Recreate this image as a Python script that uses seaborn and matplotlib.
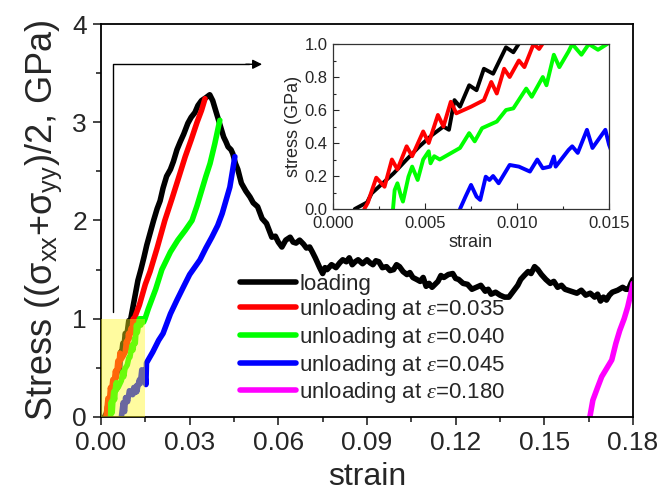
import matplotlib
matplotlib.use("Agg")
import matplotlib.pyplot as plt
import seaborn as sns
import pandas as pd
from matplotlib.patches import Rectangle
from matplotlib.ticker import MultipleLocator

sns.set_style("ticks")
plt.rcParams['font.family'] = ['Liberation Sans', 'DejaVu Sans']
plt.rcParams['mathtext.fontset'] = 'custom'
plt.rcParams['mathtext.rm'] = 'Liberation Sans'
plt.rcParams['mathtext.it'] = 'Liberation Serif:italic'

# ---------------- data ----------------
loading_strain = [0.00118, 0.00185, 0.0021, 0.0027, 0.0033, 0.0040, 0.0047, 0.0054, 0.0060, 0.0063,
                  0.0066, 0.0069, 0.0074, 0.0078, 0.0082, 0.0087, 0.0094, 0.0098, 0.0102, 0.0110,
                  0.0118, 0.0125, 0.0135, 0.0145, 0.0155, 0.0165, 0.0178, 0.0190, 0.0200, 0.0210,
                  0.0222, 0.0235, 0.0245, 0.0257, 0.0268, 0.0280, 0.0294, 0.0305, 0.0318, 0.0328,
                  0.0340, 0.0355, 0.0368, 0.0378, 0.0388, 0.0395, 0.0405, 0.0415, 0.0423, 0.0430,
                  0.0440, 0.0446, 0.0455, 0.0463, 0.0475, 0.0490, 0.0504, 0.0515, 0.0530, 0.0545,
                  0.0560, 0.0578, 0.0590, 0.0600, 0.0612, 0.0625, 0.0640, 0.0650, 0.0660, 0.0672,
                  0.0685, 0.0695, 0.0706, 0.0715, 0.0725, 0.0740, 0.0750, 0.0758, 0.0765, 0.0780,
                  0.0795, 0.0808, 0.0818, 0.0830, 0.0840, 0.0850, 0.0860, 0.0870, 0.0885, 0.0900,
                  0.0910, 0.0920, 0.0930, 0.0940, 0.0952, 0.0966, 0.0978, 0.0990, 0.1000, 0.1010,
                  0.1022, 0.1035, 0.1045, 0.1055, 0.1068, 0.1080, 0.1090, 0.1100, 0.1110, 0.1120,
                  0.1130, 0.1140, 0.1150, 0.1160, 0.1175, 0.1190, 0.1200, 0.1210, 0.1225, 0.1240,
                  0.1255, 0.1270, 0.1285, 0.1300, 0.1310, 0.1320, 0.1335, 0.1350, 0.1365, 0.1380,
                  0.1390, 0.1400, 0.1410, 0.1420, 0.1432, 0.1445, 0.1455, 0.1467, 0.1478, 0.1490,
                  0.1505, 0.1520, 0.1532, 0.1545, 0.1558, 0.1570, 0.1590, 0.1610, 0.1625, 0.1640,
                  0.1655, 0.1670, 0.1680, 0.1690, 0.1700, 0.1710, 0.1720, 0.1730, 0.1748, 0.1765,
                  0.1775, 0.1785, 0.1793, 0.1800]
loading_stress = [0.0, 0.04, 0.095, 0.156, 0.217, 0.30, 0.38, 0.45, 0.50, 0.48,
                  0.66, 0.62, 0.75, 0.72, 0.85, 0.82, 0.98, 0.95, 1.02, 1.15,
                  1.28, 1.39, 1.50, 1.62, 1.75, 1.86, 2.00, 2.12, 2.20, 2.33,
                  2.45, 2.52, 2.60, 2.72, 2.80, 2.88, 2.99, 3.05, 3.10, 3.17,
                  3.22, 3.25, 3.28, 3.22, 3.12, 3.05, 2.95, 2.85, 2.80, 2.75,
                  2.72, 2.68, 2.58, 2.52, 2.38, 2.30, 2.24, 2.18, 2.14, 2.02,
                  1.97, 1.83, 1.84, 1.78, 1.73, 1.80, 1.83, 1.78, 1.77, 1.80,
                  1.76, 1.72, 1.73, 1.68, 1.62, 1.52, 1.46, 1.52, 1.50, 1.55,
                  1.52, 1.57, 1.60, 1.58, 1.62, 1.55, 1.58, 1.60, 1.56, 1.60,
                  1.57, 1.55, 1.59, 1.58, 1.52, 1.53, 1.49, 1.50, 1.55, 1.53,
                  1.48, 1.45, 1.47, 1.42, 1.40, 1.38, 1.42, 1.33, 1.36, 1.32,
                  1.35, 1.38, 1.44, 1.42, 1.45, 1.46, 1.41, 1.40, 1.36, 1.35,
                  1.30, 1.32, 1.34, 1.28, 1.30, 1.25, 1.27, 1.24, 1.22, 1.22,
                  1.26, 1.30, 1.34, 1.40, 1.44, 1.48, 1.46, 1.53, 1.50, 1.45,
                  1.40, 1.36, 1.38, 1.32, 1.34, 1.30, 1.28, 1.26, 1.29, 1.24,
                  1.26, 1.22, 1.25, 1.18, 1.22, 1.19, 1.24, 1.27, 1.29, 1.32,
                  1.30, 1.30, 1.36, 1.40]

unl035_strain = [0.0017, 0.0019, 0.0020, 0.00235, 0.0028, 0.0032, 0.0035, 0.0040, 0.0043, 0.0049,
                 0.0052, 0.0057, 0.0060, 0.0064, 0.0067, 0.0075, 0.0082, 0.0086, 0.0089, 0.0093,
                 0.0096, 0.0101, 0.0104, 0.0109, 0.0112, 0.0115, 0.0130, 0.0150, 0.0166, 0.0190,
                 0.0216, 0.0240, 0.0260, 0.0285, 0.0305, 0.0325, 0.0340, 0.0352]
unl035_stress = [0.0, 0.04, 0.075, 0.19, 0.135, 0.30, 0.24, 0.38, 0.32, 0.47,
                 0.40, 0.57, 0.50, 0.65, 0.58, 0.62, 0.66, 0.77, 0.70, 0.85,
                 0.80, 0.90, 0.86, 1.00, 0.97, 1.02, 1.14, 1.35, 1.48, 1.72,
                 2.00, 2.22, 2.41, 2.65, 2.82, 3.00, 3.12, 3.24]

unl040_strain = [0.00326, 0.00335, 0.0035, 0.0037, 0.0038, 0.0041, 0.0043, 0.0046, 0.0049, 0.0052,
                 0.0053, 0.0055, 0.0058, 0.0069, 0.0074, 0.0077, 0.0081, 0.0089, 0.0094, 0.0098,
                 0.0105, 0.0108, 0.0114, 0.0116, 0.0120, 0.0123, 0.0128, 0.0130, 0.0135, 0.0139,
                 0.0144, 0.0149, 0.0160, 0.0185, 0.0206, 0.0235, 0.0260, 0.0285, 0.0308, 0.0325,
                 0.0341, 0.0355, 0.0369, 0.0385, 0.0402]
unl040_stress = [0.0, 0.115, 0.156, 0.075, 0.045, 0.196, 0.257, 0.176, 0.30, 0.35,
                 0.277, 0.32, 0.30, 0.37, 0.46, 0.41, 0.49, 0.53, 0.60, 0.61,
                 0.73, 0.68, 0.80, 0.75, 0.935, 0.86, 0.955, 1.0, 0.935, 1.0,
                 0.965, 1.0, 1.10, 1.30, 1.50, 1.68, 1.80, 1.90, 2.00, 2.15,
                 2.31, 2.45, 2.58, 2.78, 3.02]

unl045_strain = [0.0069, 0.0072, 0.0075, 0.0078, 0.0080, 0.0083, 0.0085, 0.0087, 0.0090, 0.0096,
                 0.0101, 0.0107, 0.0111, 0.0114, 0.0118, 0.0120, 0.0121, 0.0128, 0.0130, 0.0133,
                 0.0138, 0.0141, 0.0148, 0.0150, 0.0152, 0.0154, 0.0175, 0.0195, 0.0210, 0.0235,
                 0.0257, 0.0280, 0.0300, 0.0335, 0.0355, 0.0375, 0.0395, 0.0410, 0.0436, 0.0453]
unl045_stress = [0.0, 0.075, 0.146, 0.075, 0.055, 0.196, 0.176, 0.20, 0.156, 0.267,
                 0.257, 0.227, 0.30, 0.247, 0.257, 0.318, 0.257, 0.358, 0.38, 0.34,
                 0.48, 0.37, 0.48, 0.39, 0.33, 0.55, 0.66, 0.78, 0.85, 1.05,
                 1.19, 1.33, 1.45, 1.60, 1.72, 1.83, 1.95, 2.07, 2.34, 2.65]

unl180_strain = [0.1654, 0.1664, 0.1680, 0.1694, 0.1712, 0.1728, 0.1742, 0.1755, 0.1770, 0.1782,
                 0.1792, 0.1800]
unl180_stress = [0.0, 0.17, 0.30, 0.41, 0.50, 0.58, 0.75, 0.88, 1.00, 1.12,
                 1.25, 1.36]

labels = ['loading',
          r'unloading at $\varepsilon$=0.035',
          r'unloading at $\varepsilon$=0.040',
          r'unloading at $\varepsilon$=0.045',
          r'unloading at $\varepsilon$=0.180']
colors = ['#000000', '#FF0000', '#00FF00', '#0000FF', '#FF00FF']
series = [(loading_strain, loading_stress), (unl035_strain, unl035_stress),
          (unl040_strain, unl040_stress), (unl045_strain, unl045_stress),
          (unl180_strain, unl180_stress)]

x_ticks = [0.00, 0.03, 0.06, 0.09, 0.12, 0.15, 0.18]
x_ticklabels = ['0.00', '0.03', '0.06', '0.09', '0.12', '0.15', '0.18']
y_ticks = [0, 1, 2, 3, 4]
inset_xticks = [0.000, 0.005, 0.010, 0.015]
inset_xticklabels = ['0.000', '0.005', '0.010', '0.015']
inset_yticks = [0.0, 0.2, 0.4, 0.6, 0.8, 1.0]
inset_yticklabels = ['0.0', '0.2', '0.4', '0.6', '0.8', '1.0']

frames = []
for lab, (sx, sy) in zip(labels, series):
    frames.append(pd.DataFrame({'strain': sx, 'stress': sy, 'curve': lab}))
df = pd.concat(frames, ignore_index=True)
palette = dict(zip(labels, colors))

# ---------------- figure ----------------
fig = plt.figure(figsize=(6.63, 4.98), dpi=100)
ax = fig.add_axes([0.1523, 0.1627, 0.8025, 0.7891])

sns.lineplot(data=df, x='strain', y='stress', hue='curve', palette=palette,
             hue_order=labels, sort=False, estimator=None,
             lw=4.0, ax=ax, legend=False)

ax.set_xlim(0, 0.18)
ax.set_ylim(0, 4)
ax.set_xticks(x_ticks)
ax.set_xticklabels(x_ticklabels)
ax.set_yticks(y_ticks)
ax.xaxis.set_minor_locator(MultipleLocator(0.015))
ax.yaxis.set_minor_locator(MultipleLocator(0.5))
ax.tick_params(which='major', direction='out', length=6, width=1.2, labelsize=19, pad=4)
ax.tick_params(which='minor', direction='out', length=3.5, width=1.2)
for s in ax.spines.values():
    s.set_visible(True)
    s.set_linewidth(1.3)
    s.set_color('black')
ax.set_xlabel('strain', fontsize=23, labelpad=5)
ax.set_ylabel(r'Stress ((σ$_{\mathrm{xx}}$+σ$_{\mathrm{yy}}$)/2, GPa)', fontsize=26, labelpad=6)

# yellow zoom box
ax.add_patch(Rectangle((0, 0), 0.015, 1.0, facecolor=(1.0, 0.97, 0.1), alpha=0.42,
                       edgecolor='none', zorder=5))

# arrow to inset
ax.plot([0.0041, 0.0041, 0.050], [1.07, 3.59, 3.59], color='black', lw=1.0, zorder=6)
ax.annotate('', xy=(0.0545, 3.59), xytext=(0.049, 3.59),
            arrowprops=dict(arrowstyle='-|>', color='black', lw=1.0,
                            mutation_scale=14, shrinkA=0, shrinkB=0), zorder=6)

# legend
handles = [plt.Line2D([], [], color=c, lw=4.0) for c in colors]
ax.legend(handles, labels, loc='upper left', bbox_to_anchor=(0.262, 0.365),
          frameon=False, fontsize=16, handlelength=2.5, handletextpad=0.15,
          labelspacing=0.12, borderpad=0, borderaxespad=0)

# ---------------- inset ----------------
axin = fig.add_axes([0.5023, 0.5803, 0.4163, 0.3313])
axin.set_facecolor('white')
sns.lineplot(data=df, x='strain', y='stress', hue='curve', palette=palette,
             hue_order=labels, sort=False, estimator=None, lw=2.8, ax=axin, legend=False)
axin.set_xlim(0, 0.015)
axin.set_ylim(0, 1.0)
axin.set_xticks(inset_xticks)
axin.set_xticklabels(inset_xticklabels)
axin.set_yticks(inset_yticks)
axin.set_yticklabels(inset_yticklabels)
axin.xaxis.set_minor_locator(MultipleLocator(0.0025))
axin.yaxis.set_minor_locator(MultipleLocator(0.1))
axin.tick_params(which='major', direction='in', length=4, width=0.8, labelsize=12)
axin.tick_params(axis='x', which='major', pad=5)
axin.tick_params(axis='y', which='major', pad=4)
axin.tick_params(which='minor', direction='in', length=2.5, width=0.8)
for s in axin.spines.values():
    s.set_visible(True)
    s.set_linewidth(0.9)
    s.set_color('#333333')
axin.set_xlabel('strain', fontsize=13, labelpad=2)
axin.set_ylabel('stress (GPa)', fontsize=13, labelpad=2)

fig.savefig('out.png', dpi=100)
